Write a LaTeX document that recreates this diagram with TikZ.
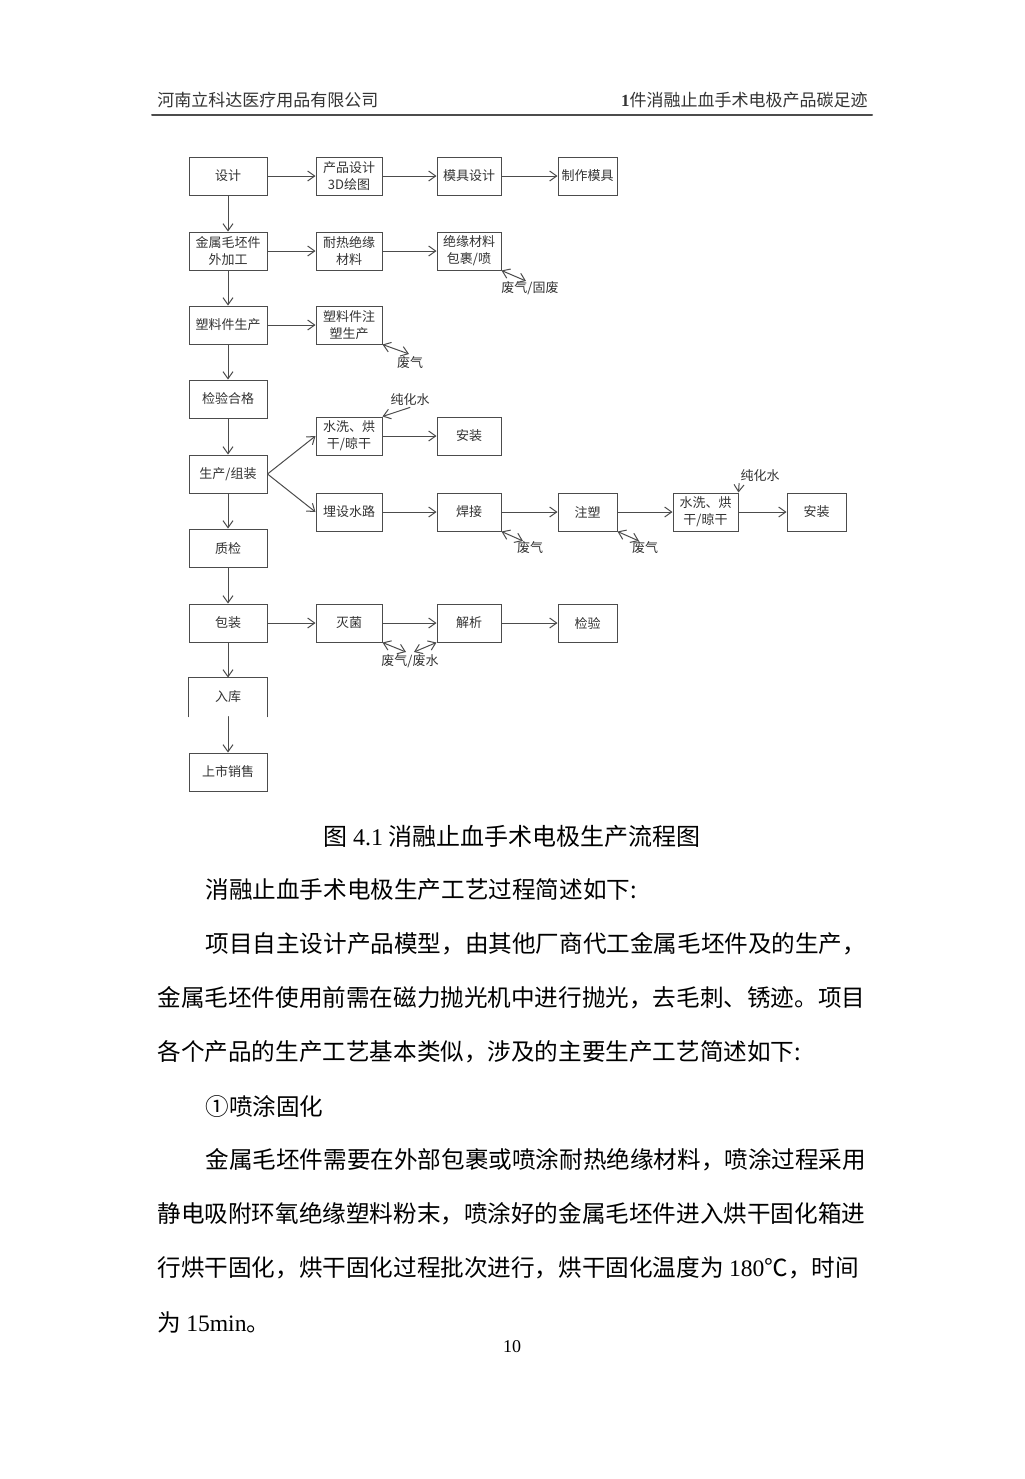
\documentclass[tikz,border=0pt]{standalone}
\usepackage{fontspec}
\setmainfont{Liberation Serif}
\newfontfamily\cjk{Noto Sans CJK SC}
\usepackage{tikz}
\usetikzlibrary{arrows.meta}
\usepackage{xcolor}

\tikzset{
  proc/.style={draw=black!70,line width=0.5pt,minimum height=19pt,minimum width=#1,inner sep=1pt,align=center,
    text=black!80,font=\cjk\fontsize{6.5pt}{8.5pt}\selectfont},
  proc/.default=39pt,
  note/.style={inner sep=0.5pt,text=black!80,font=\cjk\fontsize{6.5pt}{8pt}\selectfont},
  flow/.style={->,draw=black!70,line width=0.5pt},
  emit/.style={<->,draw=black!70,line width=0.5pt},
  body/.style={anchor=west,inner sep=0pt,font=\cjk\fontsize{11.8pt}{14pt}\selectfont}
}

\begin{document}
\begin{tikzpicture}[x=0.5pt,y=-0.5pt,>={Straight Barb[length=3.5pt,width=5pt]},line cap=round]
\fill[white] (0,0) rectangle (1024,1479);
\useasboundingbox (0,0) rectangle (1024,1479);
% header
\node[anchor=west,inner sep=0pt,text=black!80,font=\cjk\fontsize{8.5pt}{10pt}\selectfont] (hdl) at (157,100) {河南立科达医疗用品有限公司};
\node[anchor=east,inner sep=0pt,text=black!80,font=\cjk\fontsize{8.5pt}{10pt}\selectfont] (hdr) at (868,100) {{\rmfamily\bfseries 1}件消融止血手术电极产品碳足迹};
\draw[black!70,line width=1pt] (152,115) -- (872,115);
% main column
\node[proc] (sj) at (228,176) {设计};
\node[proc] (jsmp) at (228,251) {金属毛坯件\\外加工};
\node[proc] (slj) at (228,325) {塑料件生产};
\node[proc] (jyhg) at (228,399) {检验合格};
\node[proc] (sczz) at (228,474) {生产/组装};
\node[proc] (zj) at (228,548) {质检};
\node[proc] (bz) at (228,623) {包装};
\node[proc,draw=none] (rk) at (228,697) {入库};
\node[proc] (ssxs) at (228,772) {上市销售};
\draw[black!70,line width=0.5pt] (rk.south west) -- (rk.north west) -- (rk.north east) -- (rk.south east);
% row 1
\node[proc=33pt] (cpsj) at (349,176) {产品设计\\3D绘图};
\node[proc=32pt] (mjsj) at (469,176) {模具设计};
\node[proc=29.5pt] (zzmj) at (587.5,176) {制作模具};
% row 2
\node[proc=33pt] (nrjy) at (349,251) {耐热绝缘\\材料};
\node[proc=32pt] (jybg) at (469,251) {绝缘材料\\包裹/喷};
\node[note] (fq1) at (530,288) {废气/固废};
\coordinate (e1) at (526,281);
% row 3
\node[proc=33pt] (zsc) at (349,325) {塑料件注\\塑生产};
\node[note] (fq2) at (410,363) {废气};
\coordinate (e2) at (409,354);
% assembly, upper branch
\node[proc=33pt] (sx1) at (349,436) {水洗、烘\\干/晾干};
\node[proc=32pt] (az1) at (469,436) {安装};
\node[note] (chs1) at (410,400) {纯化水};
% assembly, lower branch
\node[proc=33pt] (msl) at (349,512) {埋设水路};
\node[proc=32pt] (hj) at (469,512) {焊接};
\node[proc=29.5pt] (zs) at (587.5,512) {注塑};
\node[proc=32.5pt] (sx2) at (705.5,512) {水洗、烘\\干/晾干};
\node[proc=29.5pt] (az2) at (816.5,512) {安装};
\node[note] (chs2) at (760,476) {纯化水};
\node[note] (fq3) at (530,548) {废气};
\node[note] (fq4) at (645,548) {废气};
\coordinate (e3) at (523,541);
\coordinate (e4) at (639,541);
% packaging row
\node[proc=33pt] (mj) at (349,623) {灭菌};
\node[proc=32pt] (jx) at (469,623) {解析};
\node[proc=29.5pt] (jy) at (587.5,623) {检验};
\node[note] (fq5) at (410,661) {废气/废水};
\coordinate (e5) at (406,652);
\coordinate (e6) at (414,652);
% connectors
\draw[flow] (sj) -- (jsmp);
\draw[flow] (jsmp) -- (slj);
\draw[flow] (slj) -- (jyhg);
\draw[flow] (jyhg) -- (sczz);
\draw[flow] (sczz) -- (zj);
\draw[flow] (zj) -- (bz);
\draw[flow] (bz) -- (rk.north);
\draw[flow] (rk.south) -- (ssxs);
\draw[flow] (sj) -- (cpsj);
\draw[flow] (cpsj) -- (mjsj);
\draw[flow] (mjsj) -- (zzmj);
\draw[flow] (jsmp) -- (nrjy);
\draw[flow] (nrjy) -- (jybg);
\draw[emit] (jybg.south east) -- (e1);
\draw[flow] (slj) -- (zsc);
\draw[emit] (zsc.south east) -- (e2);
\draw[flow] (sczz.east) -- (sx1.west);
\draw[flow] (sczz.east) -- (msl.west);
\draw[flow] (chs1.south) -- (sx1.north east);
\draw[flow] (sx1) -- (az1);
\draw[flow] (msl) -- (hj);
\draw[flow] (hj) -- (zs);
\draw[flow] (zs) -- (sx2);
\draw[flow] (sx2) -- (az2);
\draw[flow] (chs2.south west) -- (sx2.north east);
\draw[emit] (hj.south east) -- (e3);
\draw[emit] (zs.south east) -- (e4);
\draw[flow] (bz) -- (mj);
\draw[flow] (mj) -- (jx);
\draw[flow] (jx) -- (jy);
\draw[emit] (mj.south east) -- (e5);
\draw[emit] (jx.south west) -- (e6);
% caption and text
\node[inner sep=0pt,font=\cjk\fontsize{12pt}{14pt}\selectfont] (cap) at (512,836) {图 {\rmfamily 4.1} 消融止血手术电极生产流程图};
\node[body] (t1) at (205,890) {消融止血手术电极生产工艺过程简述如下:};
\node[body] (t2) at (205,944) {项目自主设计产品模型，由其他厂商代工金属毛坯件及的生产，};
\node[body] (t3) at (157,998) {金属毛坯件使用前需在磁力抛光机中进行抛光，去毛刺、锈迹。项目};
\node[body] (t4) at (157,1052) {各个产品的生产工艺基本类似，涉及的主要生产工艺简述如下:};
\node[body] (t5) at (205,1107) {①喷涂固化};
\node[body] (t6) at (205,1160) {金属毛坯件需要在外部包裹或喷涂耐热绝缘材料，喷涂过程采用};
\node[body] (t7) at (157,1214) {静电吸附环氧绝缘塑料粉末，喷涂好的金属毛坯件进入烘干固化箱进};
\node[body] (t8) at (157,1268) {行烘干固化，烘干固化过程批次进行，烘干固化温度为 {\rmfamily 180}℃，时间};
\node[body] (t9) at (157,1322) {为 {\rmfamily 15min}。};
\node[inner sep=0pt,font=\fontsize{9pt}{10pt}\selectfont] (pg) at (512,1347) {10};
\end{tikzpicture}
\end{document}
